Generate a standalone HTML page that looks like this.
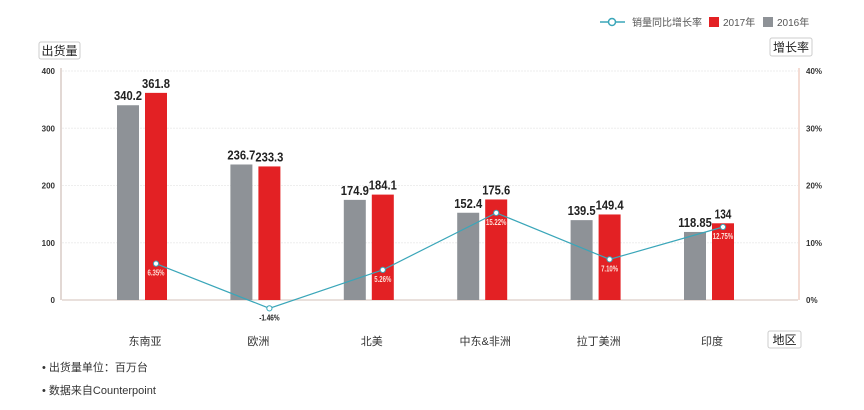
<!DOCTYPE html>
<html><head><meta charset="utf-8"><style>
body{margin:0;background:#fff;}
svg{display:block;font-family:"Liberation Sans","Noto Sans CJK SC",sans-serif;}
</style></head><body>
<svg id="c" width="864" height="410"></svg>
<script>
const categories=["东南亚","欧洲","北美","中东&非洲","拉丁美洲","印度"];
const v2016=[340.2,236.7,174.9,152.4,139.5,118.85];
const v2017=[361.8,233.3,184.1,175.6,149.4,134];
const growth=[6.35,-1.46,5.26,15.22,7.10,12.75];
const leftTicks=[0,100,200,300,400];
const rightTicks=["0%","10%","20%","30%","40%"];
const NS="http://www.w3.org/2000/svg";
const svg=document.getElementById('c');
function el(t,a,txt){const e=document.createElementNS(NS,t);for(const k in a)e.setAttribute(k,a[k]);if(txt!==undefined)e.textContent=txt;svg.appendChild(e);return e;}
const y0=300,y1=71;
const yL=v=>y0-(v/400)*(y0-y1);
const yR=p=>y0-(p/40)*(y0-y1);
const cx=i=>141+i*113.4;
leftTicks.forEach((t,i)=>{
 let g=el('line',{x1:62,x2:798,y1:yL(t),y2:yL(t),stroke:i==0?'#e2d6d0':'#eee','stroke-width':i==0?1.5:1,'stroke-dasharray':i==0?'':'2,1'});
 
 let l=el('text',{x:55,y:yL(t)+3,'text-anchor':'end','font-size':8,'font-weight':'bold',fill:'#333'},t);
 
 let r=el('text',{x:806,y:yL(t)+3,'font-size':8,'font-weight':'bold',fill:'#333'},rightTicks[i]);
 
});
let la=el('line',{x1:61,x2:61,y1:68,y2:300,stroke:'#d8ccc6','stroke-width':1.5});

let ra=el('line',{x1:799,x2:799,y1:68,y2:300,stroke:'#e8b8a8','stroke-width':1});

function vlabel(x,y,txt,name){
 const s=String(txt);
 let t=el('text',{x:x,y:y,'text-anchor':'middle','font-size':12.5,'font-weight':'bold',fill:'#222',textLength:s.length*5.6,lengthAdjust:'spacingAndGlyphs'},s);
 
}
categories.forEach((c,i)=>{
 const x=cx(i);
 let g=el('rect',{x:x-24,y:yL(v2016[i]),width:22,height:y0-yL(v2016[i]),fill:'#8e9297'});
 
 let r=el('rect',{x:x+4,y:yL(v2017[i]),width:22,height:y0-yL(v2017[i]),fill:'#e32124'});
 
 vlabel(x-13,yL(v2016[i])-5,v2016[i],'value-label-2016');
 vlabel(x+15,yL(v2017[i])-5,v2017[i],'value-label-2017');
 let cl=el('text',{x:x+4,y:345,'text-anchor':'middle','font-size':11,fill:'#333'},c);
 
});
let pts=growth.map((g,i)=>[cx(i)+15,yR(g)]);
let pl=el('polyline',{points:pts.map(p=>p.join(',')).join(' '),fill:'none',stroke:'#3aa6b9','stroke-width':1.2});

growth.forEach((g,i)=>{
 const [x,y]=pts[i];
 let c=el('circle',{cx:x,cy:y,r:2.6,fill:'#fff',stroke:'#3aa6b9','stroke-width':1});
 
 const neg=g<0;
 const s=g.toFixed(2)+'%';
 let t=el('text',{x:x,y:y+12,'text-anchor':'middle','font-size':8,'font-weight':'bold',fill:neg?'#222':'#fde0d8',textLength:s.length*3.4,lengthAdjust:'spacingAndGlyphs'},s);
 
});
function box(x,y,w,h,txt,name){
 let r=el('rect',{x:x,y:y,width:w,height:h,fill:'#fff',stroke:'#ccc','stroke-width':1,rx:2});
 
 let t=el('text',{x:x+w/2,y:y+h/2+4.5,'text-anchor':'middle','font-size':12,fill:'#222'},txt);
 
}
box(39,42,41,17,'出货量','y-axis-title');
box(770,38,42,18,'增长率','y2-axis-title');
box(768,331,33,17,'地区','x-axis-title');
let ll=el('line',{x1:600,x2:625,y1:22,y2:22,stroke:'#3aa6b9','stroke-width':1.5});

let lc=el('circle',{cx:612,cy:22,r:3.5,fill:'#fff',stroke:'#3aa6b9','stroke-width':1.5});

let lt=el('text',{x:632,y:26,'font-size':10,fill:'#555'},'销量同比增长率');

let lr=el('rect',{x:709,y:17,width:10,height:10,fill:'#e32124'});

let lt2=el('text',{x:723,y:26,'font-size':10,fill:'#555'},'2017年');

let lg=el('rect',{x:763,y:17,width:10,height:10,fill:'#8e9297'});

let lt3=el('text',{x:777,y:26,'font-size':10,fill:'#555'},'2016年');

let n1=el('text',{x:42,y:371,'font-size':11,fill:'#333'},'• 出货量单位：百万台');

let n2=el('text',{x:42,y:394,'font-size':11,fill:'#333'},'• 数据来自Counterpoint');

</script>
</body></html>
